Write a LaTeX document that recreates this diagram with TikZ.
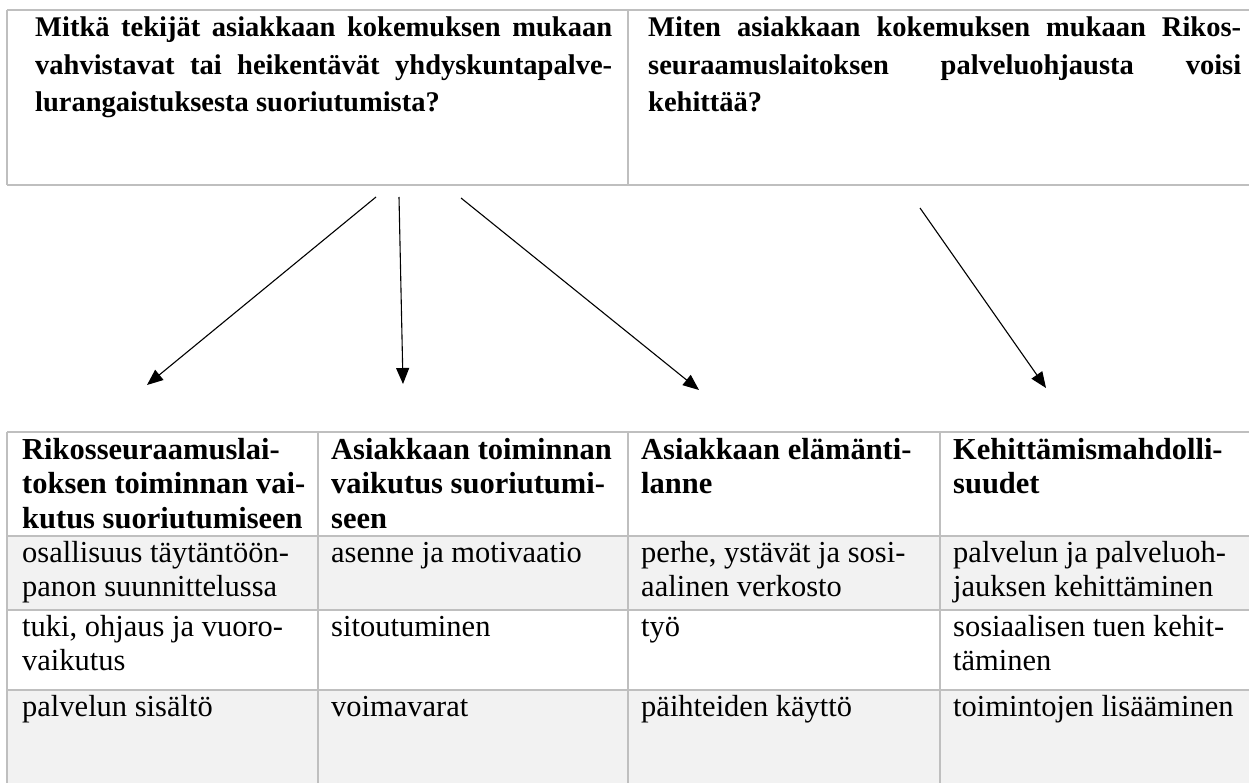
\documentclass[tikz,border=0pt]{standalone}
\usepackage{fontspec}
\setmainfont{Liberation Serif}
\usetikzlibrary{arrows.meta}
\definecolor{gridgray}{HTML}{BFBFBF}
\definecolor{rowgray}{HTML}{F2F2F2}
\newcommand{\jline}[2]{\makebox[#1][s]{#2}}
\begin{document}
\begin{tikzpicture}[x=1pt,y=-1pt,
  gridline/.style={draw=gridgray, line width=1.6pt},
  toptext/.style={inner sep=0pt, anchor=base west, font=\fontsize{28.5}{37.5}\selectfont\bfseries},
  headtext/.style={inner sep=0pt, anchor=base west, font=\fontsize{30.5}{34.5}\selectfont\bfseries},
  celltext/.style={inner sep=0pt, anchor=base west, font=\fontsize{30.5}{34.5}\selectfont},
  conn/.style={draw=black, line width=1.1pt, -{Triangle[length=16pt,width=13pt]}}]
\useasboundingbox (0,0) rectangle (1249,783);
% row fills
\fill[rowgray] (7,536) rectangle (1249,610);
\fill[rowgray] (7,690) rectangle (1249,783);
% top box
\draw[gridline] (7,10) -- (1249,10);
\draw[gridline] (7,185) -- (1249,185);
\draw[gridline] (7,10) -- (7,185);
\draw[gridline] (628,10) -- (628,185);
% table
\foreach \yy in {432,536,610,690} \draw[gridline] (7,\yy) -- (1249,\yy);
\foreach \xx in {7,318,628,940} \draw[gridline] (\xx,432) -- (\xx,783);
% top texts
\node[toptext] (q1) at (35,37) {\parbox[t]{577pt}{\jline{577pt}{Mitkä tekijät asiakkaan kokemuksen mukaan}\\\jline{577pt}{vahvistavat tai heikentävät yhdyskuntapalve-}\\lurangaistuksesta suoriutumista?}};
\node[toptext] (q2) at (648,37) {\parbox[t]{593pt}{\jline{593pt}{Miten asiakkaan kokemuksen mukaan Rikos-}\\\jline{593pt}{seuraamuslaitoksen palveluohjausta voisi}\\kehittää?}};
% header
\node[headtext] (h1) at (22,459) {\parbox[t]{290pt}{Rikosseuraamuslai-\\toksen toiminnan vai-\\kutus suoriutumiseen}};
\node[headtext] (h2) at (331,459) {\parbox[t]{290pt}{Asiakkaan toiminnan\\vaikutus suoriutumi-\\seen}};
\node[headtext] (h3) at (641,459) {\parbox[t]{290pt}{Asiakkaan elämänti-\\lanne}};
\node[headtext] (h4) at (953,459) {\parbox[t]{290pt}{Kehittämismahdolli-\\suudet}};
% row 1
\node[celltext] (r11) at (22,562) {\parbox[t]{290pt}{osallisuus täytäntöön-\\panon suunnittelussa}};
\node[celltext] (r12) at (331,562) {asenne ja motivaatio};
\node[celltext] (r13) at (641,562) {\parbox[t]{290pt}{perhe, ystävät ja sosi-\\aalinen verkosto}};
\node[celltext] (r14) at (953,562) {\parbox[t]{290pt}{palvelun ja palveluoh-\\jauksen kehittäminen}};
% row 2
\node[celltext] (r21) at (22,636) {\parbox[t]{290pt}{tuki, ohjaus ja vuoro-\\vaikutus}};
\node[celltext] (r22) at (331,636) {sitoutuminen};
\node[celltext] (r23) at (641,636) {työ};
\node[celltext] (r24) at (953,636) {\parbox[t]{290pt}{sosiaalisen tuen kehit-\\täminen}};
% row 3
\node[celltext] (r31) at (22,716) {palvelun sisältö};
\node[celltext] (r32) at (331,716) {voimavarat};
\node[celltext] (r33) at (641,716) {päihteiden käyttö};
\node[celltext] (r34) at (953,716) {toimintojen lisääminen};
% arrows
\coordinate (a1s) at (376,197);
\coordinate (a1e) at (147,385);
\coordinate (a2s) at (399,197);
\coordinate (a2e) at (403,384);
\coordinate (a3s) at (461,198);
\coordinate (a3e) at (699,390);
\coordinate (a4s) at (920,208);
\coordinate (a4e) at (1046,388);
\draw[conn] (a1s) -- (a1e);
\draw[conn] (a2s) -- (a2e);
\draw[conn] (a3s) -- (a3e);
\draw[conn] (a4s) -- (a4e);
\end{tikzpicture}
\end{document}
